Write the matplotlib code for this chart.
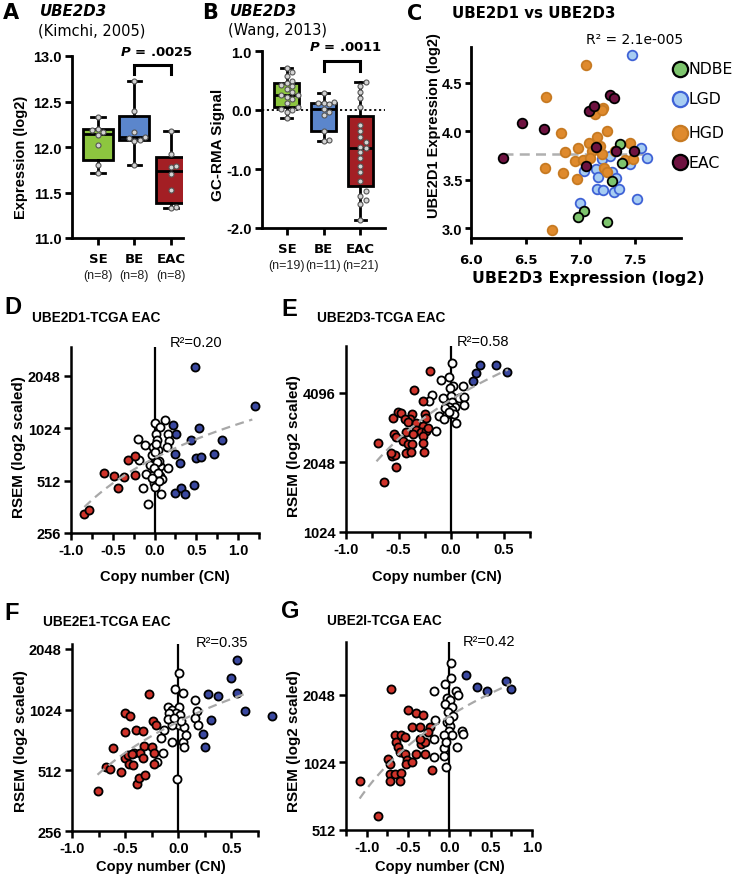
import numpy as np
import matplotlib.pyplot as plt
from matplotlib.ticker import MultipleLocator

plt.rcParams['font.family'] = ['Liberation Sans', 'DejaVu Sans']
plt.rcParams['axes.unicode_minus'] = False

########################## Data ##########################

groups = ["SE", "BE", "EAC"]
box_colors = ["#8dc63f", "#5b86cc", "#a31f24"]

# A - Kimchi 2005 (log2 expression)
kimchi_n = [8, 8, 8]
kimchi_SE = [11.71, 11.80, 12.02, 12.13, 12.16, 12.19, 12.20, 12.33]
kimchi_BE = [11.80, 12.07, 12.08, 12.10, 12.11, 12.17, 12.40, 12.72]
kimchi_EAC = [11.33, 11.34, 11.53, 11.70, 11.78, 11.79, 11.92, 12.18]

# B - Wang 2013 (GC-RMA signal)
wang_n = [19, 11, 21]
wang_SE = [0.72, 0.65, 0.58, 0.50, 0.45, 0.42, 0.40, 0.35, 0.30, 0.26,
           0.25, 0.22, 0.18, 0.12, 0.05, 0.02, 0.00, -0.03, -0.13]
wang_BE = [0.28, 0.13, 0.12, 0.12, 0.10, 0.02, -0.03, -0.08, -0.35, -0.50, -0.52]
wang_EAC = [0.47, 0.40, 0.30, 0.20, 0.05, -0.25, -0.35, -0.45, -0.55, -0.62,
            -0.65, -0.72, -0.82, -0.95, -1.05, -1.20, -1.38, -1.45, -1.52,
            -1.60, -1.87]

# C - UBE2D1 vs UBE2D3
ndbe_x = [7.36, 7.38, 7.29, 7.03, 6.98, 7.24]
ndbe_y = [3.87, 3.67, 3.49, 3.18, 3.12, 3.06]
lgd_x = [7.03, 7.14, 7.16, 7.29, 7.33, 7.15, 7.21, 7.31, 7.35, 7.00, 7.52,
         7.45, 7.20, 7.27, 7.55, 7.61, 7.47]
lgd_y = [3.59, 3.61, 3.53, 3.58, 3.52, 3.41, 3.40, 3.37, 3.41, 3.26, 3.30,
         3.66, 3.71, 3.75, 3.83, 3.73, 4.79]
hgd_x = [7.05, 6.69, 7.21, 7.13, 7.20, 6.82, 7.24, 7.15, 7.08, 7.18, 6.98,
         6.86, 7.11, 7.20, 7.32, 7.45, 7.41, 7.48, 6.95, 7.02, 7.09, 6.68,
         6.84, 6.97, 7.22, 7.24, 6.74]
hgd_y = [4.68, 4.35, 4.24, 4.18, 4.22, 3.98, 4.00, 3.94, 3.88, 3.85, 3.83,
         3.79, 3.80, 3.77, 3.80, 3.88, 3.70, 3.71, 3.69, 3.70, 3.72, 3.62,
         3.57, 3.51, 3.62, 3.58, 2.98]
eac_x = [6.29, 6.47, 6.67, 7.08, 7.12, 7.27, 7.31, 7.14, 7.33, 7.49, 7.05]
eac_y = [3.73, 4.09, 4.02, 4.21, 4.26, 4.37, 4.34, 3.84, 3.80, 3.80, 3.64]
c_fit = (6.29, 7.62, 3.765)   # x start, x end, level
c_r2 = "R² = 2.1e-005"

# D-G - TCGA EAC, copy number vs RSEM (log2 of RSEM)
D_white_cn = [0.12, 0.00, 0.06, -0.20, -0.11, 0.02, 0.16, 0.17, 0.03, -0.02,
              0.04, 0.15, -0.19, 0.01, -0.05, 0.07, 0.01, -0.02, 0.06, 0.16,
              -0.10, 0.02, -0.01, 0.09, -0.14, 0.01, 0.08, -0.08, 0.05, -0.03,
              0.00, 0.03, -0.01, 0.04, 0.02, 0.05, -0.03]
D_white_rsem = [10.16, 10.09, 10.02, 9.80, 9.68, 9.89, 9.88, 9.75, 9.78, 9.65,
                9.59, 9.64, 9.40, 9.43, 9.30, 9.27, 9.20, 9.11, 9.08, 9.24,
                9.13, 9.02, 8.95, 9.03, 8.85, 8.88, 8.75, 8.56, 9.37, 9.49,
                9.55, 9.35, 9.25, 9.15, 9.70, 9.00, 9.05]
D_red_cn = [-0.84, -0.78, -0.60, -0.48, -0.44, -0.36, -0.32, -0.23, -0.23]
D_red_rsem = [8.37, 8.43, 9.14, 9.08, 8.86, 9.07, 9.39, 9.47, 9.11]
D_blue_cn = [0.48, 1.20, 0.22, 0.26, 0.53, 0.44, 0.81, 0.24, 0.50, 0.56, 0.71,
             0.31, 0.47, 0.25, 0.32, 0.36]
D_blue_rsem = [11.17, 10.42, 10.07, 9.88, 10.00, 9.77, 9.77, 9.51, 9.43, 9.45,
               9.51, 9.34, 8.92, 8.76, 8.86, 8.75]

E_white_cn = [0.006, -0.094, -0.02, 0.016, -0.01, -0.18, -0.21, -0.08, 0.0,
              0.01, 0.07, 0.11, 0.12, 0.12, 0.04, -0.05, -0.02, 0.01, -0.04,
              0.03, -0.12, -0.07, -0.06, 0.05, -0.14, -0.02]
E_white_rsem = [12.43, 12.18, 12.23, 12.10, 12.06, 11.97, 11.88, 11.92, 11.95,
                11.86, 11.93, 12.10, 11.94, 11.83, 11.80, 11.81, 11.79, 11.75,
                11.69, 11.69, 11.67, 11.62, 11.78, 11.57, 11.45, 11.72]
E_red_cn = [-0.20, -0.35, -0.70, -0.64, -0.52, -0.56, -0.53, -0.55, -0.51,
            -0.48, -0.37, -0.27, -0.25, -0.39, -0.44, -0.41, -0.33, -0.27,
            -0.54, -0.52, -0.43, -0.33, -0.29, -0.24, -0.22, -0.46, -0.41,
            -0.37, -0.27, -0.43, -0.38, -0.27, -0.26, -0.36, -0.24, -0.57]
E_red_rsem = [12.31, 12.04, 11.28, 10.72, 10.94, 11.09, 11.10, 11.64, 11.72,
              11.71, 11.69, 11.88, 11.69, 11.62, 11.62, 11.58, 11.56, 11.52,
              11.40, 11.37, 11.43, 11.46, 11.43, 11.45, 11.50, 11.31, 11.26,
              11.27, 11.38, 11.14, 11.15, 11.28, 11.15, 11.40, 11.64, 11.14]
E_blue_cn = [0.275, 0.43, 0.53, 0.24, 0.21]
E_blue_rsem = [12.40, 12.40, 12.30, 12.28, 12.17]

F_white_cn = [0.006, -0.03, 0.04, 0.16, -0.10, -0.06, 0.006, -0.02, 0.02,
              -0.09, 0.18, 0.16, 0.19, 0.006, 0.05, -0.06, -0.10, -0.16, -0.13,
              -0.06, 0.04, 0.05, 0.07, -0.14, -0.20, -0.01, 0.03, -0.04]
F_white_rsem = [10.60, 10.34, 10.28, 10.15, 10.05, 10.00, 10.05, 9.94, 9.91,
                9.94, 9.97, 9.86, 9.75, 9.75, 9.72, 9.75, 9.84, 9.53, 9.67,
                9.47, 9.47, 9.39, 9.58, 9.28, 9.14, 8.85, 9.82, 9.86]
F_red_cn = [-0.76, -0.68, -0.64, -0.61, -0.54, -0.50, -0.50, -0.45, -0.50,
            -0.47, -0.46, -0.43, -0.42, -0.39, -0.37, -0.31, -0.40, -0.33,
            -0.32, -0.36, -0.33, -0.28, -0.24, -0.21, -0.25, -0.23, -0.23, -0.44]
F_red_rsem = [8.66, 9.05, 9.02, 9.36, 8.97, 9.21, 9.94, 9.89, 9.63, 9.25,
              9.11, 9.09, 9.28, 8.78, 8.87, 8.92, 9.67, 9.64, 9.40, 9.28,
              9.20, 10.26, 9.81, 9.75, 9.39, 9.28, 9.10, 9.27]
F_blue_cn = [0.55, 0.50, 0.55, 0.28, 0.37, 0.63, 0.88, 0.31, 0.23, 0.25]
F_blue_rsem = [10.81, 10.52, 10.27, 10.26, 10.22, 9.97, 9.90, 9.83, 9.60, 9.39]

G_white_cn = [0.016, 0.02, -0.05, -0.19, 0.08, 0.11, -0.03, 0.01, -0.05, 0.03,
              -0.02, 0.05, -0.17, -0.03, 0.01, 0.15, 0.16, -0.01, 0.03, -0.07,
              -0.19, 0.09, -0.06, -0.19, -0.07, -0.04, 0.0, -0.04]
G_white_rsem = [11.47, 11.25, 11.16, 11.05, 11.05, 10.99, 10.95, 10.92, 10.87,
                10.82, 10.74, 10.69, 10.62, 10.59, 10.54, 10.47, 10.42, 10.47,
                10.40, 10.40, 10.34, 10.22, 10.21, 10.08, 10.10, 9.93, 10.62, 10.30]
G_red_cn = [-1.085, -0.86, -0.70, -0.50, -0.40, -0.32, -0.45, -0.35, -0.23,
            -0.66, -0.58, -0.54, -0.65, -0.62, -0.34, -0.30, -0.74, -0.60,
            -0.54, -0.40, -0.30, -0.51, -0.52, -0.45, -0.72, -0.66, -0.59,
            -0.72, -0.60, -0.21, -0.36, -0.26, -0.72]
G_red_rsem = [9.73, 9.21, 11.09, 10.77, 10.73, 10.70, 10.52, 10.52, 10.52,
              10.41, 10.40, 10.37, 10.30, 10.22, 10.27, 10.30, 10.05, 10.15,
              10.12, 10.12, 10.12, 10.03, 9.98, 10.00, 9.83, 9.83, 9.84, 9.73,
              9.73, 9.88, 10.35, 10.45, 9.98]
G_blue_cn = [0.20, 0.33, 0.45, 0.68, 0.74]
G_blue_rsem = [11.29, 11.11, 11.05, 11.21, 11.09]

# linear fits: (cn start, cn end, RSEM at CN=0, slope)
fit_D = (-0.84, 1.17, 690, 392)
fit_E = (-0.71, 0.54, 3822, 2470)
fit_F = (-0.76, 0.65, 891, 532)
fit_G = (-1.085, 0.74, 1645, 865)

######################## Figure ########################

W, H = 734, 878
fig = plt.figure(figsize=(W / 100, H / 100), dpi=100)
DV = ['DejaVu Sans']   # wider face for the (horizontally stretched) top row


def add_ax(x0, y0, x1, y1):
    return fig.add_axes([x0 / W, 1 - y1 / H, (x1 - x0) / W, (y1 - y0) / H])


def ftext(x, y, s, **kw):
    kw.setdefault('va', 'center')
    fig.text(x / W, 1 - y / H, s, **kw)


def style(ax, lw=1.8, length=5, pad=2.5):
    for sp in ['top', 'right']:
        ax.spines[sp].set_visible(False)
    for sp in ['left', 'bottom']:
        ax.spines[sp].set_linewidth(lw)
    ax.tick_params(direction='out', width=lw, length=length, pad=pad)
    ax.tick_params(which='minor', direction='out', width=lw, length=length - 1)


def tick_font(ax, size, family=None, axis='both'):
    labs = []
    if axis in ('both', 'x'):
        labs += ax.get_xticklabels()
    if axis in ('both', 'y'):
        labs += ax.get_yticklabels()
    for lab in labs:
        lab.set_fontweight('bold')
        lab.set_fontsize(size)
        if family:
            lab.set_family(family)


def swarm(vals, dy, dx):
    vals = np.asarray(vals)
    offs = np.zeros(len(vals))
    placed = []
    for i in np.argsort(vals):
        for k in range(40):
            cand = 0.0 if k == 0 else ((k + 1) // 2) * dx * (1 if k % 2 else -1)
            if all(abs(vals[i] - pv) > dy or abs(cand - po) > dx * 0.95
                   for pv, po in placed):
                break
        offs[i] = cand
        placed.append((vals[i], cand))
    return offs


def box_panel(ax, data, ns, pos, bw, dy, dx):
    for i, vals in enumerate(data):
        v = np.asarray(vals)
        q1, med, q3 = np.percentile(v, [25, 50, 75], method='weibull')
        st = dict(med=med, q1=q1, q3=q3, whislo=v.min(), whishi=v.max())
        ax.bxp([st], positions=[pos[i]], widths=bw, capwidths=bw * 0.45,
               patch_artist=True, showfliers=False,
               boxprops=dict(facecolor=box_colors[i], edgecolor='k', lw=2),
               medianprops=dict(color='k', lw=2),
               whiskerprops=dict(color='k', lw=2),
               capprops=dict(color='k', lw=2))
        ax.scatter(pos[i] + swarm(v, dy, dx), v, s=13, c='#d4d4d4',
                   edgecolors='#555555', linewidths=0.8, zorder=4)
        ax.annotate(f"(n={ns[i]})", (pos[i], 0), xycoords=('data', 'axes fraction'),
                    xytext=(0, -27), textcoords='offset points', ha='center',
                    va='center', fontsize=9, color='#222222')
    ax.set_xticks(pos)
    ax.set_xticklabels(groups)
    tick_font(ax, 9.5, DV, axis='x')
    tick_font(ax, 10.5, axis='y')
    ax.tick_params(axis='x', pad=5)


def bracket(ax, x0, x1, y, h, ty, txt):
    ax.plot([x0, x0, x1, x1], [y - h, y, y, y - h], color='k', lw=2.2,
            clip_on=False, solid_joinstyle='miter')
    ax.text((x0 + x1) / 2 + 0.1, ty, txt, ha='center', va='center',
            fontsize=9.5, fontweight='bold', family=DV)


# ---------------- A ----------------
axA = add_ax(72, 57, 183, 239)
style(axA, 2)
axA.set_xlim(0.29, 3.33)
axA.set_ylim(11.0, 13.0)
axA.yaxis.set_major_locator(MultipleLocator(0.5))
axA.yaxis.set_major_formatter(plt.FormatStrFormatter('%.1f'))
box_panel(axA, [kimchi_SE, kimchi_BE, kimchi_EAC], kimchi_n, [1, 2, 3],
          0.82, 0.06, 0.15)
bracket(axA, 2, 3, 12.9, 0.1, 13.05, "$\\bfit{P}$ = .0025")
ftext(21, 157, "Expression (log2)", fontsize=10.5, fontweight='bold',
      rotation=90, ha='center')
ftext(3, 13, "A", fontsize=15, fontweight='bold', family=DV)
ftext(40, 12, "UBE2D3", fontsize=10.8, fontweight='bold', style='italic',
      family=DV)
ftext(38, 31, "(Kimchi, 2005)", fontsize=10.5, family=DV)

# ---------------- B ----------------
axB = add_ax(262, 52, 385, 229)
style(axB, 2)
axB.set_xlim(0.32, 3.68)
axB.set_ylim(-2.0, 1.0)
axB.yaxis.set_major_locator(MultipleLocator(1.0))
axB.yaxis.set_major_formatter(plt.FormatStrFormatter('%.1f'))
box_panel(axB, [wang_SE, wang_BE, wang_EAC], wang_n, [1, 2, 3],
          0.68, 0.085, 0.15)
axB.axhline(0, color='k', lw=1.3, ls=(0, (1.2, 1.5)), zorder=0)
bracket(axB, 2, 3, 0.83, 0.17, 1.07, "$\\bfit{P}$ = .0011")
ftext(218, 145, "GC-RMA Signal", fontsize=11, fontweight='bold',
      rotation=90, ha='center')
ftext(202, 13, "B", fontsize=15, fontweight='bold', family=DV)
ftext(230, 12, "UBE2D3", fontsize=10.8, fontweight='bold', style='italic',
      family=DV)
ftext(228, 31, "(Wang, 2013)", fontsize=10.5, family=DV)

# ---------------- C ----------------
axC = add_ax(471, 48, 681, 239)
style(axC, 2, 4, 2)
axC.tick_params(axis='x', pad=7)
axC.plot([c_fit[0], c_fit[1]], [c_fit[2], c_fit[2]], color='#b0b0b0', lw=1.8,
         ls=(0, (4, 2.5)), zorder=1)
mk = 48
groups_C = [
    ('NDBE', ndbe_x, ndbe_y, '#7dc46d', 'k'),
    ('LGD', lgd_x, lgd_y, '#a7cdf2', '#3f62d6'),
    ('HGD', hgd_x, hgd_y, '#df8a2d', '#c77a22'),
    ('EAC', eac_x, eac_y, '#6e1240', 'k'),
]
for name, gx, gy, fc, ec in groups_C:
    z = 4 if ec == 'k' else 3
    axC.scatter(gx, gy, s=mk, c=fc, edgecolors=ec, lw=1.3, zorder=z)
axC.set_xlim(6.0, 7.92)
axC.set_ylim(2.9, 4.87)
axC.xaxis.set_major_locator(MultipleLocator(0.5))
axC.yaxis.set_major_locator(MultipleLocator(0.5))
axC.xaxis.set_major_formatter(plt.FormatStrFormatter('%.1f'))
axC.yaxis.set_major_formatter(plt.FormatStrFormatter('%.1f'))
tick_font(axC, 10.5, axis='y')
tick_font(axC, 9.5, DV, axis='x')
# legend drawn as figure-level markers next to the panel
for k, (name, gx, gy, fc, ec) in enumerate(groups_C):
    ly = [70, 100, 134, 163][k]
    fig.add_artist(plt.Line2D([680 / W], [1 - ly / H], marker='o', ms=11,
                              mfc=fc, mec=ec, mew=1.6, ls='none',
                              transform=fig.transFigure))
    ftext(689, ly, name, fontsize=11.3, family=DV)
ftext(635, 40, c_r2, fontsize=10, ha='center', family=DV)
ftext(588, 279, "UBE2D3 Expression (log2)", fontsize=11.3, fontweight='bold',
      ha='center', family=DV)
ftext(434, 126, "UBE2D1 Expression (log2)", fontsize=10.5, fontweight='bold',
      rotation=90, ha='center')
ftext(407, 14, "C", fontsize=15, fontweight='bold', family=DV)
ftext(452, 14, "UBE2D1 vs UBE2D3", fontsize=10.8, fontweight='bold', family=DV)


# ---------------- D-G ----------------
def cn_panel(box, xlim, yticks, ylog_top, white, red, blue, fit, r2,
             letter, title, lpos, tpos, r2pos, ylab, xlab):
    x0, y0, x1, y1 = box
    ax = add_ax(x0, y0, x1, y1)
    style(ax, 1.8)
    ax.set_yscale('log', base=2)
    ax.set_xlim(*xlim)
    ax.set_ylim(yticks[0], 2 ** ylog_top)
    ax.set_yticks(yticks)
    ax.set_yticklabels([str(t) for t in yticks])
    ax.yaxis.set_minor_locator(plt.NullLocator())
    ax.xaxis.set_major_locator(MultipleLocator(0.5))
    ax.xaxis.set_minor_locator(MultipleLocator(0.25))
    ax.xaxis.set_major_formatter(plt.FormatStrFormatter('%.1f'))
    tick_font(ax, 10.5)
    ax.axvline(0, color='k', lw=1.6, zorder=2)
    kw = dict(s=34, edgecolors='k', linewidths=1.3, zorder=3, clip_on=False)
    ax.scatter(white[0], 2 ** np.asarray(white[1]), c='white', **kw)
    ax.scatter(red[0], 2 ** np.asarray(red[1]), c='#d0332a', **kw)
    ax.scatter(blue[0], 2 ** np.asarray(blue[1]), c='#3a48a0', **kw)
    xs = np.linspace(fit[0], fit[1], 60)
    ax.plot(xs, fit[2] + fit[3] * xs, color='#a8a8a8', lw=1.6,
            ls=(0, (4, 2.5)), zorder=4)
    ftext(ylab[0], ylab[1], "RSEM (log2 scaled)", fontsize=11,
          fontweight='bold', rotation=90, ha='center')
    ftext(xlab[0], xlab[1], "Copy number (CN)", fontsize=10.5,
          fontweight='bold', ha='center')
    ftext(lpos[0], lpos[1], letter, fontsize=17, fontweight='bold')
    ftext(tpos[0], tpos[1], title, fontsize=9.8, fontweight='bold')
    ftext(r2pos[0], r2pos[1], r2, fontsize=10.5, ha='center')
    return ax


cn_panel((71, 348, 259, 534), (-1.0, 1.25), [256, 512, 1024, 2048], 11.55,
         (D_white_cn, D_white_rsem), (D_red_cn, D_red_rsem),
         (D_blue_cn, D_blue_rsem), fit_D, "R²=0.20", "D", "UBE2D1-TCGA EAC",
         (4, 308), (32, 318), (196, 343), (19, 447), (165, 577))
cn_panel((346, 347, 530, 533), (-1.0, 0.75), [1024, 2048, 4096], 12.67,
         (E_white_cn, E_white_rsem), (E_red_cn, E_red_rsem),
         (E_blue_cn, E_blue_rsem), fit_E, "R²=0.58", "E", "UBE2D3-TCGA EAC",
         (281, 310), (317, 318), (483, 342), (294, 446), (437, 577))
cn_panel((72, 645, 258, 832), (-1.0, 0.75), [256, 512, 1024, 2048], 11.08,
         (F_white_cn, F_white_rsem), (F_red_cn, F_red_rsem),
         (F_blue_cn, F_blue_rsem), fit_F, "R²=0.35", "F", "UBE2E1-TCGA EAC",
         (4, 614), (43, 622), (222, 643), (21, 741), (161, 867))
cn_panel((346, 643, 532, 831), (-1.25, 1.0), [512, 1024, 2048], 11.78,
         (G_white_cn, G_white_rsem), (G_red_cn, G_red_rsem),
         (G_blue_cn, G_blue_rsem), fit_G, "R²=0.42", "G", "UBE2I-TCGA EAC",
         (281, 612), (327, 621), (489, 642), (294, 741), (440, 867))

fig.savefig("out.png", dpi=100)
